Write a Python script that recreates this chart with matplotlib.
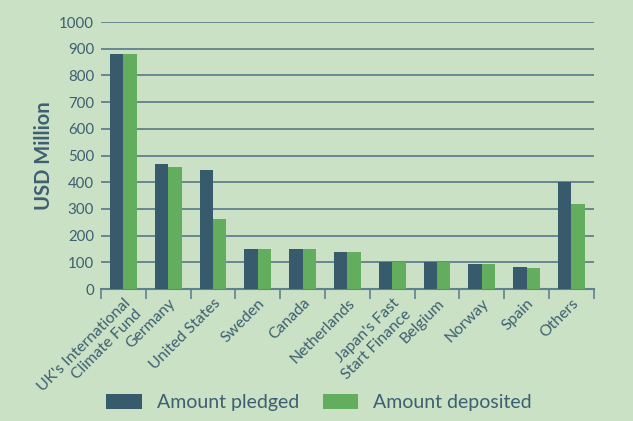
import numpy as np
import matplotlib
matplotlib.use("Agg")
import matplotlib.pyplot as plt
from matplotlib.ticker import FixedLocator

categories = ["UK's International\nClimate Fund", "Germany", "United States", "Sweden",
              "Canada", "Netherlands", "Japan's Fast\nStart Finance", "Belgium",
              "Norway", "Spain", "Others"]
pledged = [880, 468, 446, 150, 150, 140, 103, 103, 93, 82, 400]
deposited = [880, 457, 262, 150, 150, 138, 103, 102, 92, 80, 320]

bg = '#cae1c6'
txt = '#3d5f70'
dark = '#375a6d'
green = '#62ad5e'
grid_c = '#60818e'

plt.rcParams['font.family'] = ['Lato', 'DejaVu Sans']

fig = plt.figure(figsize=(6.33, 4.21), dpi=100, facecolor=bg)
ax = fig.add_axes([0.1596, 0.3135, 0.7784, 0.6342], facecolor=bg)

x = np.arange(len(categories))
w = 0.3
ax.bar(x - w/2, pledged, w, color=dark, label='Amount pledged', zorder=3)
ax.bar(x + w/2, deposited, w, color=green, label='Amount deposited', zorder=3)

ax.set_xlim(-0.5, len(categories) - 0.5)
ax.set_ylim(0, 1000)
ax.set_yticks(np.arange(0, 1001, 100))
ax.yaxis.grid(True, color=grid_c, lw=1.3, zorder=0)
ax.tick_params(axis='y', length=0, pad=5, labelsize=10.8, labelcolor=txt)

ax.set_xticks(x)
ax.set_xticklabels(categories, rotation=45, ha='right', rotation_mode='anchor',
                   multialignment='right', fontsize=11.3, color=txt)
ax.tick_params(axis='x', which='major', length=0, pad=5)
ax.xaxis.set_minor_locator(FixedLocator(np.arange(-0.5, len(categories), 1)))
ax.tick_params(axis='x', which='minor', length=7, width=1.2, color=grid_c)

for s in ['top', 'right', 'left']:
    ax.spines[s].set_visible(False)
ax.spines['bottom'].set_color(grid_c)
ax.spines['bottom'].set_linewidth(1.5)

ax.set_ylabel('USD Million', fontsize=14.5, fontweight='bold', color=txt, labelpad=4)

fig.legend(loc='center', bbox_to_anchor=(0.504, 0.043), ncol=2, frameon=False,
           handlelength=1.85, handleheight=0.8, columnspacing=1.2, handletextpad=0.75,
           prop={'size': 14}, labelcolor=txt)

fig.savefig('out.png', dpi=100, facecolor=bg)
